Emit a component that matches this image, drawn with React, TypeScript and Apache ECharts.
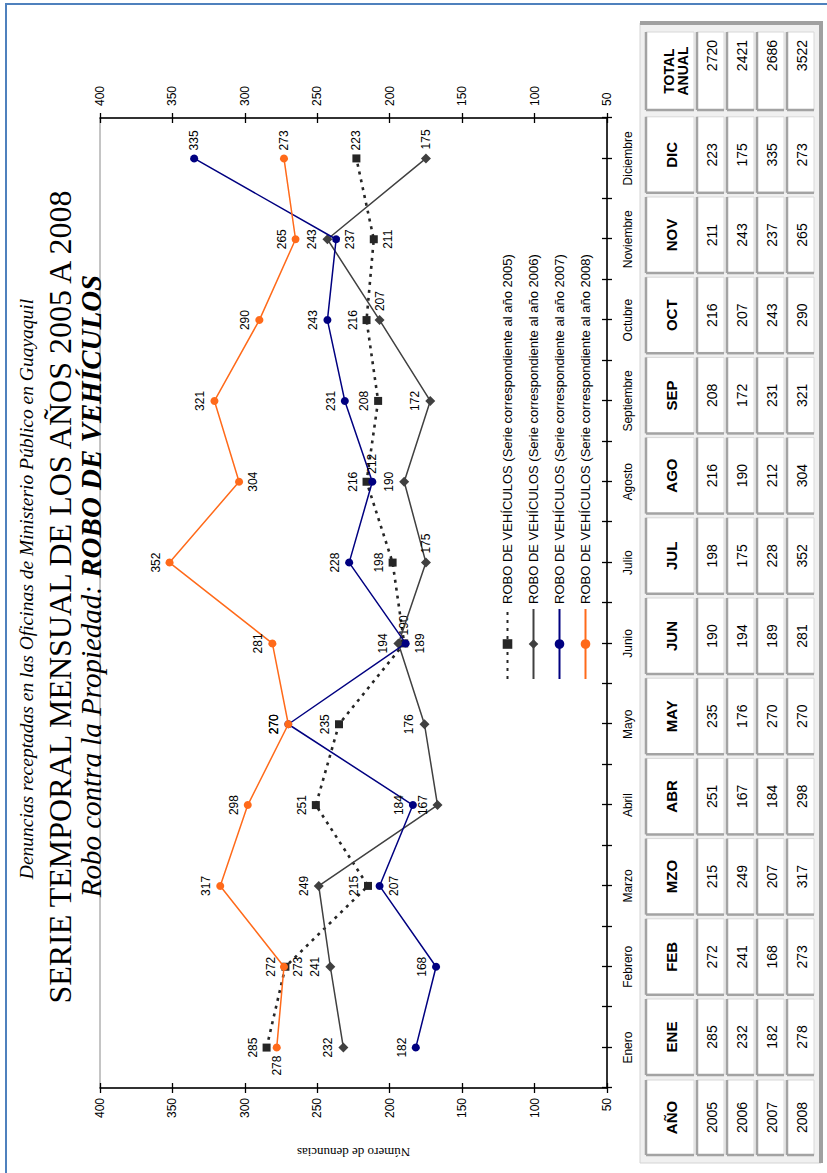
import React, { useEffect, useRef } from "react";
import * as echarts from "echarts";

// ---------- data ----------
const months = ["Enero", "Febrero", "Marzo", "Abril", "Mayo", "Junio", "Julio", "Agosto", "Septiembre", "Octubre", "Noviembre", "Diciembre"];
const monthCodes = ["ENE", "FEB", "MZO", "ABR", "MAY", "JUN", "JUL", "AGO", "SEP", "OCT", "NOV", "DIC"];
const years = ["2005", "2006", "2007", "2008"];
const values2005 = [285, 272, 215, 251, 235, 190, 198, 216, 208, 216, 211, 223];
const values2006 = [232, 241, 249, 167, 176, 194, 175, 190, 172, 207, 243, 175];
const values2007 = [182, 168, 207, 184, 270, 189, 228, 212, 231, 243, 237, 335];
const values2008 = [278, 273, 317, 298, 270, 281, 352, 304, 321, 290, 265, 273];
const annualTotals = [2720, 2421, 2686, 3522];
const valueMin = 50;
const valueMax = 400;
const valueStep = 50;

// label side per point (in the un-rotated frame)
const labelSides2005 = ["top", "top", "top", "top", "top", "right", "top", "top", "top", "top", "bottom", "right"];
const labelSides2006 = ["top", "top", "top", "top", "top", "top", "right", "top", "top", "right", "top", "right"];
const labelSides2007 = ["top", "top", "bottom", "top", "top", "bottom", "top", "right", "top", "top", "bottom", "right"];
const labelSides2008 = ["left", "bottom", "top", "top", "top", "top", "top", "bottom", "top", "top", "top", "right"];

const allValues = [values2005, values2006, values2007, values2008];
const allSides = [labelSides2005, labelSides2006, labelSides2007, labelSides2008];
const seriesNames = years.map((y) => `ROBO DE VEHÍCULOS (Serie correspondiente al año ${y})`);

const SANS = "Liberation Sans";
const SERIF = "Liberation Serif";
const W = 1173;
const H = 827;

const styles = [
  { color: "#262626", symbol: "rect", size: 8, type: [3, 5] as any, width: 2.6 },
  { color: "#404040", symbol: "diamond", size: 10, type: "solid" as any, width: 1.5 },
  { color: "#000080", symbol: "circle", size: 8, type: "solid" as any, width: 1.5 },
  { color: "#ff6a1a", symbol: "circle", size: 8, type: "solid" as any, width: 1.5 },
];

function buildTable(): any[] {
  const els: any[] = [];
  const cols: { u: number; w: number }[] = [{ u: 18, w: 75 }];
  for (let i = 0; i < monthCodes.length; i++) cols.push({ u: 98 + i * 80.2, w: 76 });
  cols.push({ u: 1063, w: 78 });
  const rows = [
    { v: 646, h: 48 },
    { v: 697, h: 27 },
    { v: 727, h: 27 },
    { v: 757, h: 27 },
    { v: 787, h: 27 },
  ];
  els.push({ type: "rect", shape: { x: 10, y: 640, width: 1140, height: 181 }, style: { fill: "#f0f0f0", stroke: "#d4d4d4", lineWidth: 1 } });
  els.push({ type: "line", shape: { x1: 1150, y1: 640, x2: 1150, y2: 822 }, style: { stroke: "#a0a0a0", lineWidth: 4 } });
  els.push({ type: "line", shape: { x1: 10, y1: 821, x2: 1152, y2: 821 }, style: { stroke: "#a0a0a0", lineWidth: 4 } });

  const header = ["AÑO", ...monthCodes, "TOTAL\nANUAL"];
  const body: string[][] = years.map((y, r) => [y, ...allValues[r].map(String), String(annualTotals[r])]);
  const grid = [header, ...body];

  grid.forEach((row, ri) => {
    const R = rows[ri];
    row.forEach((txt, ci) => {
      const C = cols[ci];
      els.push({ type: "rect", shape: { x: C.u, y: R.v, width: C.w, height: R.h }, style: { fill: "#fff", stroke: "#d8d8d8", lineWidth: 1 } });
      els.push({ type: "line", shape: { x1: C.u, y1: R.v, x2: C.u + C.w, y2: R.v }, style: { stroke: "#a3a3a3", lineWidth: 2.5 } });
      els.push({ type: "line", shape: { x1: C.u, y1: R.v, x2: C.u, y2: R.v + R.h }, style: { stroke: "#a3a3a3", lineWidth: 2.5 } });
      const isHeader = ri === 0;
      const isTotal = ci === row.length - 1;
      let x = C.u + C.w / 2;
      let align = "center";
      if (!isHeader && isTotal) {
        x = C.u + C.w - 8;
        align = "right";
      }
      let y = R.v + R.h / 2 + 1;
      if (isHeader && isTotal) y = R.v + R.h / 2 + 6;
      els.push({
        type: "text",
        style: {
          text: txt,
          x,
          y,
          align,
          verticalAlign: "middle",
          fill: "#000",
          fontFamily: SANS,
          fontSize: isHeader ? (isTotal ? 14 : 15) : 14,
          fontWeight: isHeader ? "bold" : "normal",
          lineHeight: 14,
        },
      });
    });
  });
  return els;
}

function buildOption(): any {
  const yBase = { type: "value", min: valueMin, max: valueMax, interval: valueStep, splitLine: { show: false } };
  const tickStyle = { color: "#000", width: 1.3 };
  const lblStyle = { color: "#000", fontSize: 12, fontFamily: SANS };
  const xBase = { type: "category", data: months, boundaryGap: true, position: "bottom", splitLine: { show: false } };

  return {
    animation: false,
    backgroundColor: "#fff",
    grid: { left: 85, right: 118, top: 100, bottom: 220, show: true, borderColor: "#8a8a8a", borderWidth: 1 },
    legend: {
      orient: "vertical",
      left: 488,
      top: 496,
      itemWidth: 70,
      itemHeight: 12,
      itemGap: 13,
      data: seriesNames,
      textStyle: { color: "#000", fontSize: 13, fontFamily: SANS },
    },
    xAxis: [
      { ...xBase, axisLine: { show: true, onZero: false, lineStyle: { color: "#000", width: 1.5 } }, axisTick: { show: true, length: 5, alignWithLabel: false, interval: 0, lineStyle: tickStyle }, axisLabel: { ...lblStyle, margin: 15, interval: 0 } },
      { ...xBase, axisLine: { show: false, onZero: false }, axisTick: { show: true, length: 5, alignWithLabel: true, interval: 0, lineStyle: tickStyle }, axisLabel: { show: false } },
      { ...xBase, axisLine: { show: false, onZero: false }, axisTick: { show: true, inside: true, length: 5, alignWithLabel: false, interval: 0, lineStyle: tickStyle }, axisLabel: { show: false } },
      { ...xBase, axisLine: { show: false, onZero: false }, axisTick: { show: true, inside: true, length: 5, alignWithLabel: true, interval: 0, lineStyle: tickStyle }, axisLabel: { show: false } },
    ],
    yAxis: [
      {
        ...yBase,
        position: "left",
        axisLine: { show: true, lineStyle: { color: "#000", width: 1.5 } },
        axisTick: { show: true, length: 5, lineStyle: tickStyle },
        axisLabel: { ...lblStyle, margin: 10 },
        name: "Número de denuncias",
        nameLocation: "middle",
        nameRotate: 90,
        nameGap: 58,
        nameTextStyle: { color: "#000", fontSize: 13, fontFamily: SERIF },
      },
      { ...yBase, position: "left", axisLine: { show: false }, axisTick: { show: true, inside: true, length: 5, lineStyle: tickStyle }, axisLabel: { show: false } },
      {
        ...yBase,
        position: "right",
        axisLine: { show: true, lineStyle: { color: "#000", width: 1.5 } },
        axisTick: { show: true, length: 5, lineStyle: tickStyle },
        axisLabel: { ...lblStyle, margin: 12 },
      },
      { ...yBase, position: "right", axisLine: { show: false }, axisTick: { show: true, inside: true, length: 5, lineStyle: tickStyle }, axisLabel: { show: false } },
    ],
    series: allValues.map((vals, k) => ({
      type: "line",
      name: seriesNames[k],
      xAxisIndex: 0,
      yAxisIndex: 0,
      symbol: styles[k].symbol,
      symbolSize: styles[k].size,
      itemStyle: { color: styles[k].color },
      lineStyle: { color: styles[k].color, width: styles[k].width, type: styles[k].type },
      label: { show: true, color: "#000", fontSize: 12, fontFamily: SANS, distance: 4 },
      data: vals.map((v, i) => ({ value: v, label: { position: allSides[k][i] } })),
      z: 3 + k,
    })),
    graphic: [
      {
        type: "text",
        style: {
          text: "Denuncias receptadas en las Oficinas de Ministerio Público en Guayaquil",
          x: 584, y: 26, align: "center", verticalAlign: "middle",
          fill: "#000", fontFamily: SERIF, fontStyle: "italic", fontSize: 19.5,
        },
      },
      {
        type: "text",
        style: {
          text: "SERIE TEMPORAL MENSUAL DE LOS AÑOS 2005 A 2008",
          x: 576, y: 60, align: "center", verticalAlign: "middle",
          fill: "#000", fontFamily: SERIF, fontSize: 32,
        },
      },
      {
        type: "text",
        style: {
          text: "{a|Robo contra la Propiedad: }{b|ROBO DE VEHÍCULOS}",
          x: 587, y: 91, align: "center", verticalAlign: "middle",
          fill: "#000",
          rich: {
            a: { fontFamily: SERIF, fontStyle: "italic", fontSize: 29, fill: "#000" },
            b: { fontFamily: SERIF, fontStyle: "italic", fontWeight: "bold", fontSize: 29, fill: "#000" },
          },
        },
      },
      ...buildTable(),
    ],
  };
}

export default function App() {
  const ref = useRef<HTMLDivElement>(null);
  useEffect(() => {
    const chart = echarts.init(ref.current!, null, { renderer: "svg" });
    chart.setOption(buildOption());
    return () => chart.dispose();
  }, []);
  return (
    <div style={{ position: "absolute", left: 0, top: 0, width: 827, height: 1173, overflow: "hidden", background: "#fff" }}>
      <div
        style={{
          position: "absolute",
          left: 0,
          top: 0,
          width: W,
          height: H,
          transformOrigin: "0 0",
          transform: `translateY(${W}px) rotate(-90deg)`,
        }}
      >
        <div ref={ref} style={{ width: W, height: H }} />
      </div>
      <div style={{ position: "absolute", left: 5, top: 3, width: 822, height: 2, background: "#4f81bd" }} />
      <div style={{ position: "absolute", left: 5, top: 3, width: 2, height: 1170, background: "#4f81bd" }} />
    </div>
  );
}
